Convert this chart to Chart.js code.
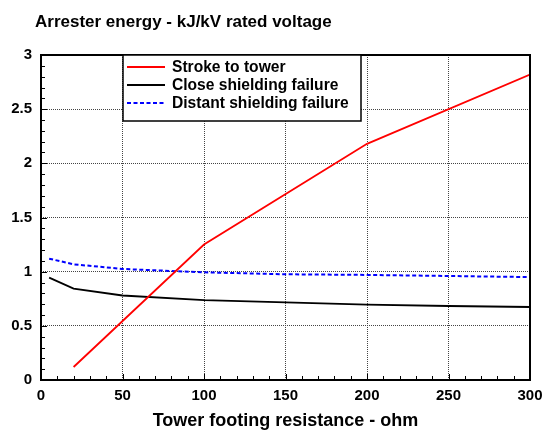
<!DOCTYPE html>
<html>
<head>
<meta charset="utf-8">
<script src="https://cdn.jsdelivr.net/npm/chart.js@4.4.0/dist/chart.umd.min.js"></script>
<style>
  html, body { margin: 0; padding: 0; background: #fff; }
  #wrap { width: 542px; height: 430px; position: relative; }
</style>
</head>
<body>
<div id="wrap"><canvas id="c" width="542" height="430"></canvas></div>
<script>
// ---- Data ----
const chartTitle = "Arrester energy - kJ/kV rated voltage";
const xAxisTitle = "Tower footing resistance - ohm";
const seriesNames = ["Stroke to tower", "Close shielding failure", "Distant shielding failure"];

const strokeX = [20, 100, 200, 300];
const strokeY = [0.12, 1.25, 2.18, 2.82];

const closeX = [5, 20, 50, 100, 150, 200, 250, 300];
const closeY = [0.945, 0.843, 0.78, 0.738, 0.717, 0.695, 0.683, 0.674];

const distantX = [5, 20, 50, 100, 150, 200, 250, 300];
const distantY = [1.12, 1.068, 1.025, 0.994, 0.976, 0.97, 0.96, 0.95];

const xTicks = [0, 50, 100, 150, 200, 250, 300];
const yTicks = [0, 0.5, 1, 1.5, 2, 2.5, 3];

const pts = (xs, ys) => xs.map((x, i) => ({ x: x, y: ys[i] }));

const FONT = "'Liberation Sans', Arial, sans-serif";

const framePlugin = {
  id: 'frame',
  afterDraw(chart) {
    const { ctx, chartArea: a, scales } = chart;
    const xs = scales.x, ys = scales.y;
    ctx.save();
    // minor ticks
    ctx.strokeStyle = '#000';
    ctx.lineWidth = 1;
    ctx.beginPath();
    for (let v = 0; v <= 300; v += 10) {
      const px = Math.round(xs.getPixelForValue(v)) + 0.5;
      const len = (v % 50 === 0) ? 6 : 4;
      ctx.moveTo(px, a.bottom);
      ctx.lineTo(px, a.bottom - len);
    }
    for (let k = 0; k <= 30; k++) {
      const v = k / 10;
      const py = Math.round(ys.getPixelForValue(v)) + 0.5;
      const len = (k % 5 === 0) ? 6 : 4;
      ctx.moveTo(a.left, py);
      ctx.lineTo(a.left + len, py);
    }
    ctx.stroke();
    // frame
    ctx.lineWidth = 2;
    ctx.strokeRect(a.left, a.top, a.right - a.left, a.bottom - a.top);

    // title
    ctx.fillStyle = '#000';
    ctx.font = "bold 17px " + FONT;
    ctx.textAlign = 'left';
    ctx.textBaseline = 'alphabetic';
    ctx.fillText(chartTitle, 35, 27);

    // legend
    const bx = 123, by = a.top, bw = 238, bh = 66;
    ctx.fillStyle = '#fff';
    ctx.fillRect(bx, by, bw, bh);
    ctx.lineWidth = 1.5;
    ctx.strokeStyle = '#000';
    ctx.strokeRect(bx, by, bw, bh);
    ctx.font = "bold 15.6px " + FONT;
    ctx.textBaseline = 'middle';
    chart.data.datasets.forEach((ds, i) => {
      const yy = by + 12 + i * 18;
      ctx.strokeStyle = ds.borderColor;
      ctx.lineWidth = ds.borderWidth;
      ctx.setLineDash(ds.borderDash || []);
      ctx.beginPath();
      ctx.moveTo(127, yy);
      ctx.lineTo(165, yy);
      ctx.stroke();
      ctx.setLineDash([]);
      ctx.fillStyle = '#000';
      ctx.fillText(ds.label, 172, yy + 0.5);
    });
    ctx.restore();
  }
};

new Chart(document.getElementById('c'), {
  type: 'line',
  data: {
    datasets: [
      { label: seriesNames[0], data: pts(strokeX, strokeY), borderColor: '#ff0000', borderWidth: 1.8, pointRadius: 0, tension: 0, fill: false },
      { label: seriesNames[1], data: pts(closeX, closeY), borderColor: '#000000', borderWidth: 1.8, pointRadius: 0, tension: 0, fill: false },
      { label: seriesNames[2], data: pts(distantX, distantY), borderColor: '#0000ff', borderWidth: 2, borderDash: [4, 2.5], pointRadius: 0, tension: 0, fill: false }
    ]
  },
  options: {
    responsive: false,
    animation: false,
    devicePixelRatio: 1,
    layout: { padding: { left: 0, right: 12, top: 55, bottom: 0 } },
    plugins: { legend: { display: false }, title: { display: false }, tooltip: { enabled: false } },
    scales: {
      x: {
        type: 'linear', min: 0, max: 300,
        afterFit(s) { s.height = 50; s.paddingLeft = 0; s.paddingRight = 0; },
        afterBuildTicks(s) { s.ticks = xTicks.map(v => ({ value: v })); },
        ticks: { color: '#000', font: { family: FONT, size: 15, weight: 'bold' }, padding: 7, maxRotation: 0,
                 callback: v => String(v) },
        grid: { color: '#444', lineWidth: 1, drawTicks: false },
        border: { display: false, dash: [1, 1] },
        title: { display: true, text: xAxisTitle, color: '#000', font: { family: FONT, size: 18, weight: 'bold' }, padding: { top: 0, bottom: -2 } }
      },
      y: {
        type: 'linear', min: 0, max: 3,
        afterFit(s) { s.width = 41; s.paddingTop = 0; s.paddingBottom = 0; },
        afterBuildTicks(s) { s.ticks = yTicks.map(v => ({ value: v })); },
        ticks: { color: '#000', font: { family: FONT, size: 15, weight: 'bold' }, padding: 9,
                 callback: v => String(v) },
        grid: { color: '#444', lineWidth: 1, drawTicks: false },
        border: { display: false, dash: [1, 1] }
      }
    }
  },
  plugins: [framePlugin]
});
</script>
</body>
</html>
